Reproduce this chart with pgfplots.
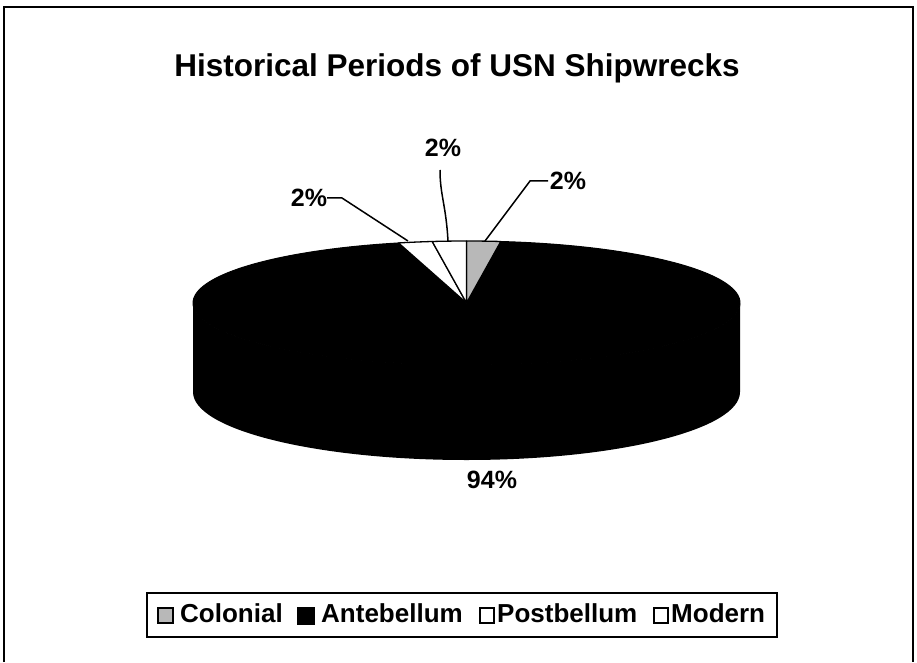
\documentclass[border=0pt]{standalone}
\usepackage{pgfplots}
\usepackage{pgfplotstable}
\pgfplotsset{compat=1.18}
\usepackage{fontspec}
\setmainfont{Liberation Sans}

\pgfplotstableread{
period value
Colonial 2
Antebellum 94
Postbellum 2
Modern 2
}\piedata

\begin{document}
\begin{tikzpicture}
% slice values from the table
\pgfplotstablegetelem{0}{value}\of\piedata \pgfmathsetmacro\vA{\pgfplotsretval}
\pgfplotstablegetelem{1}{value}\of\piedata \pgfmathsetmacro\vB{\pgfplotsretval}
\pgfplotstablegetelem{2}{value}\of\piedata \pgfmathsetmacro\vC{\pgfplotsretval}
\pgfplotstablegetelem{3}{value}\of\piedata \pgfmathsetmacro\vD{\pgfplotsretval}
\pgfmathtruncatemacro\pA{\vA}
\pgfmathtruncatemacro\pB{\vB}
\pgfmathtruncatemacro\pC{\vC}
\pgfmathtruncatemacro\pD{\vD}
% cumulative angles, clockwise from 12 o'clock
\pgfmathsetmacro\aA{90}
\pgfmathsetmacro\aB{\aA-3.6*\vA}
\pgfmathsetmacro\aC{\aB-3.6*\vB}
\pgfmathsetmacro\aD{\aC-3.6*\vC}
\pgfmathsetmacro\aE{\aD-3.6*\vD}
% pie geometry (pixels)
\def\cx{466.5}\def\cy{303}\def\rx{273.5}\def\ry{62}
\def\cyb{392}\def\ryb{68}
\begin{axis}[
  x=1pt, y=1pt, xmin=0, xmax=917, ymin=0, ymax=662,
  y dir=reverse, hide axis, clip=false, scale only axis,
]
\path (axis cs:0,0) rectangle (axis cs:917,662);
% outer frame
\draw[line width=1.6pt] (axis cs:4,662) -- (axis cs:4,7) -- (axis cs:913,7) -- (axis cs:913,662);
% title
\node[anchor=base, inner sep=0pt, font=\bfseries\fontsize{31.5}{36}\selectfont] at (axis cs:457,77) {Historical Periods of USN Shipwrecks};
% side of the pie
\fill[black] (axis cs:{\cx-\rx},\cy) arc[start angle=180, end angle=360, x radius=\rx pt, y radius=\ry pt]
   -- (axis cs:{\cx+\rx},\cyb) arc[start angle=0, end angle=-180, x radius=\rx pt, y radius=\ryb pt] -- cycle;
% top face wedges
\filldraw[fill=black, draw=black, line width=1pt, line join=round] (axis cs:\cx,\cy) -- (axis cs:{\cx+\rx*cos(\aB)},{\cy-\ry*sin(\aB)})
   arc[start angle=\aB, end angle=\aC, x radius=\rx pt, y radius=\ry pt] -- cycle;
\filldraw[fill=black!28, draw=black, line width=1.3pt, line join=round] (axis cs:\cx,\cy) -- (axis cs:{\cx+\rx*cos(\aA)},{\cy-\ry*sin(\aA)})
   arc[start angle=\aA, end angle=\aB, x radius=\rx pt, y radius=\ry pt] -- cycle;
\filldraw[fill=white, draw=black, line width=1.3pt, line join=round] (axis cs:\cx,\cy) -- (axis cs:{\cx+\rx*cos(\aC)},{\cy-\ry*sin(\aC)})
   arc[start angle=\aC, end angle=\aD, x radius=\rx pt, y radius=\ry pt] -- cycle;
\filldraw[fill=white, draw=black, line width=1.3pt, line join=round] (axis cs:\cx,\cy) -- (axis cs:{\cx+\rx*cos(\aD)},{\cy-\ry*sin(\aD)})
   arc[start angle=\aD, end angle=\aE, x radius=\rx pt, y radius=\ry pt] -- cycle;
% leader lines
\draw[line width=1.5pt] (axis cs:485,241) -- (axis cs:530,181) -- (axis cs:548,181);
\draw[line width=1.5pt] (axis cs:448,241) .. controls (axis cs:446,205) and (axis cs:440,195) .. (axis cs:440,170);
\draw[line width=1.5pt] (axis cs:408,241) -- (axis cs:342,198) -- (axis cs:327,198);
% data labels
\begingroup
\node[anchor=base, inner sep=0pt, font=\bfseries\fontsize{25}{30}\selectfont] at (axis cs:568,190) {\pA\%};
\node[anchor=base, inner sep=0pt, font=\bfseries\fontsize{25}{30}\selectfont] at (axis cs:443,157) {\pD\%};
\node[anchor=base, inner sep=0pt, font=\bfseries\fontsize{25}{30}\selectfont] at (axis cs:309,207) {\pC\%};
\node[anchor=base, inner sep=0pt, font=\bfseries\fontsize{25}{30}\selectfont] at (axis cs:492,488) {\pB\%};
\endgroup
% legend
\draw[line width=1.6pt] (axis cs:147,593) rectangle (axis cs:777,637);
\filldraw[fill=black!28, draw=black, line width=1.2pt] (axis cs:158,608) rectangle (axis cs:173,623);
\filldraw[fill=black, draw=black, line width=1.2pt] (axis cs:298,608) rectangle (axis cs:314,624);
\filldraw[fill=white, draw=black, line width=1.2pt] (axis cs:480,608) rectangle (axis cs:494,623);
\filldraw[fill=white, draw=black, line width=1.2pt] (axis cs:654,608) rectangle (axis cs:668,623);
\node[anchor=base west, inner sep=0pt, font=\bfseries\fontsize{26}{30}\selectfont] at (axis cs:180,622) {Colonial};
\node[anchor=base west, inner sep=0pt, font=\bfseries\fontsize{26}{30}\selectfont] at (axis cs:321,622) {Antebellum};
\node[anchor=base west, inner sep=0pt, font=\bfseries\fontsize{26}{30}\selectfont] at (axis cs:497,622) {Postbellum};
\node[anchor=base west, inner sep=0pt, font=\bfseries\fontsize{26}{30}\selectfont] at (axis cs:671,622) {Modern};
\end{axis}
\end{tikzpicture}
\end{document}
